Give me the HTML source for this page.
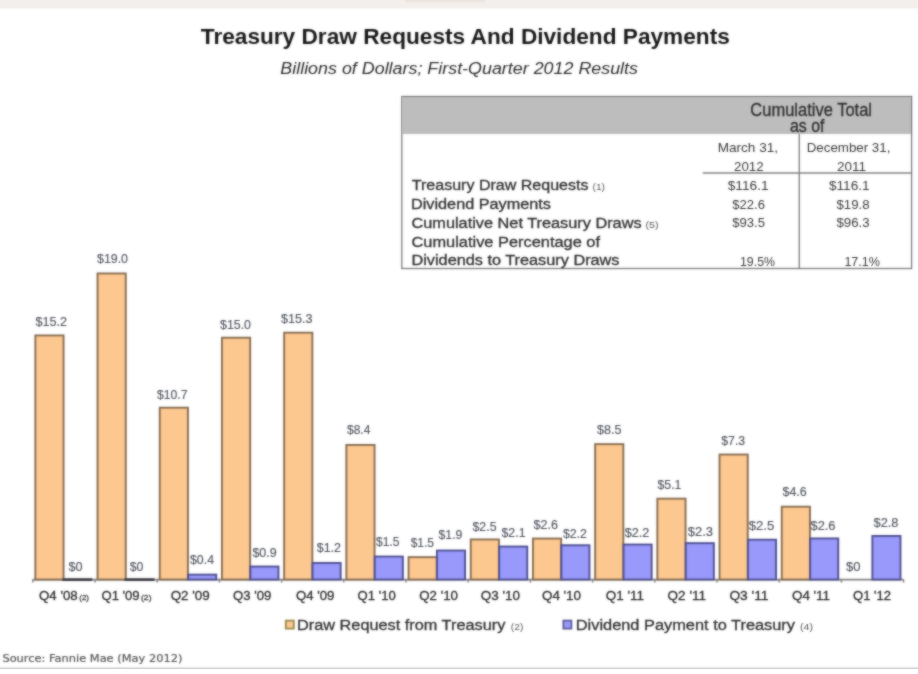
<!DOCTYPE html>
<html lang="en"><head><meta charset="utf-8"><title>Treasury Draw Requests And Dividend Payments</title>
<style>
html,body{margin:0;padding:0;background:#fff;}
body{width:918px;height:674px;overflow:hidden;}
svg{display:block;font-family:"Liberation Sans","DejaVu Sans",sans-serif;}
.t{fill:#2b2b2b}
.dl{fill:#4f545e;font-size:12.7px;stroke:#4f545e;stroke-width:0.15px}
.xl{fill:#2c2c2c;font-size:12.6px;stroke:#2c2c2c;stroke-width:0.3px}
.tb{fill:#2e2e2e;font-size:14.9px;stroke:#2e2e2e;stroke-width:0.3px}
.tn{fill:#3a3a3a;font-size:13px}
</style></head><body>
<svg width="918" height="674" viewBox="0 0 918 674">
<defs><filter id="b" x="0" y="0" width="100%" height="100%" color-interpolation-filters="sRGB"><feGaussianBlur in="SourceGraphic" stdDeviation="0.8" result="bl"/><feComposite in="bl" in2="SourceGraphic" operator="arithmetic" k1="0" k2="0.6" k3="0.4" k4="0"/></filter></defs>
<rect width="918" height="674" fill="#ffffff"/>
<g filter="url(#b)">
<rect x="-2" y="-2" width="922" height="10.6" fill="#f3efec"/>
<rect x="405" y="-2" width="80" height="4" fill="#ece3dc"/>

<text x="200.8" y="43.5" textLength="529.0" lengthAdjust="spacingAndGlyphs" class="t" style="font-weight:bold;font-size:21.4px;fill:#161616">Treasury Draw Requests And Dividend Payments</text>
<text x="280.3" y="74.4" textLength="357.7" lengthAdjust="spacingAndGlyphs" class="t" style="font-style:italic;font-size:15.8px">Billions of Dollars; First-Quarter 2012 Results</text>
<rect x="401.8" y="96.5" width="509.8" height="172" fill="#ffffff" stroke="#7a7a7a" stroke-width="1.3"/>
<rect x="402" y="97" width="509" height="37" fill="#bdbdbd"/>
<line x1="799.3" y1="134" x2="799.3" y2="268.5" stroke="#808080" stroke-width="1.4"/>
<line x1="702.8" y1="173" x2="911.5" y2="173" stroke="#808080" stroke-width="1.3"/>
<text x="750.3" y="116.0" textLength="121.7" lengthAdjust="spacingAndGlyphs" class="tb" style="font-size:17.8px">Cumulative Total</text>
<text x="790.0" y="131.9" textLength="34.5" lengthAdjust="spacingAndGlyphs" class="tb" style="font-size:17.8px">as of</text>
<text x="717.7" y="151.8" textLength="60.3" lengthAdjust="spacingAndGlyphs" class="tn" >March 31,</text>
<text x="734.0" y="170.5" textLength="29.6" lengthAdjust="spacingAndGlyphs" class="tn" >2012</text>
<text x="806.7" y="151.8" textLength="83.7" lengthAdjust="spacingAndGlyphs" class="tn" >December 31,</text>
<text x="837.0" y="170.5" textLength="29.0" lengthAdjust="spacingAndGlyphs" class="tn" >2011</text>
<text x="411.8" y="189.6" textLength="176.7" lengthAdjust="spacingAndGlyphs" class="tb" >Treasury Draw Requests</text>
<text x="592.5" y="190.3" textLength="12.5" lengthAdjust="spacingAndGlyphs" class="tn" style="font-size:9.5px;fill:#555">(1)</text>
<text x="411.0" y="209.0" textLength="140.0" lengthAdjust="spacingAndGlyphs" class="tb" >Dividend Payments</text>
<text x="411.5" y="227.5" textLength="230.1" lengthAdjust="spacingAndGlyphs" class="tb" >Cumulative Net Treasury Draws</text>
<text x="645.5" y="227.5" textLength="13.0" lengthAdjust="spacingAndGlyphs" class="tn" style="font-size:9.5px;fill:#555">(5)</text>
<text x="411.5" y="246.7" textLength="188.5" lengthAdjust="spacingAndGlyphs" class="tb" >Cumulative Percentage of</text>
<text x="411.5" y="265.0" textLength="208.0" lengthAdjust="spacingAndGlyphs" class="tb" >Dividends to Treasury Draws</text>
<text x="727.7" y="190.3" textLength="41.0" lengthAdjust="spacingAndGlyphs" class="tn" >$116.1</text>
<text x="829.0" y="190.3" textLength="40.6" lengthAdjust="spacingAndGlyphs" class="tn" >$116.1</text>
<text x="732.2" y="209.0" textLength="32.8" lengthAdjust="spacingAndGlyphs" class="tn" >$22.6</text>
<text x="836.4" y="209.0" textLength="33.2" lengthAdjust="spacingAndGlyphs" class="tn" >$19.8</text>
<text x="732.2" y="227.4" textLength="32.8" lengthAdjust="spacingAndGlyphs" class="tn" >$93.5</text>
<text x="836.4" y="227.4" textLength="33.2" lengthAdjust="spacingAndGlyphs" class="tn" >$96.3</text>
<text x="740.0" y="266.0" textLength="35.0" lengthAdjust="spacingAndGlyphs" class="tn" >19.5%</text>
<text x="844.4" y="266.0" textLength="35.6" lengthAdjust="spacingAndGlyphs" class="tn" >17.1%</text>
<line x1="32.8" y1="579.6" x2="903.6" y2="579.6" stroke="#808080" stroke-width="1.8"/>
<line x1="32.8" y1="579.6" x2="32.8" y2="582.6" stroke="#808080" stroke-width="1.5"/>
<line x1="95.0" y1="579.6" x2="95.0" y2="582.6" stroke="#808080" stroke-width="1.5"/>
<line x1="157.2" y1="579.6" x2="157.2" y2="582.6" stroke="#808080" stroke-width="1.5"/>
<line x1="219.4" y1="579.6" x2="219.4" y2="582.6" stroke="#808080" stroke-width="1.5"/>
<line x1="281.6" y1="579.6" x2="281.6" y2="582.6" stroke="#808080" stroke-width="1.5"/>
<line x1="343.8" y1="579.6" x2="343.8" y2="582.6" stroke="#808080" stroke-width="1.5"/>
<line x1="406.0" y1="579.6" x2="406.0" y2="582.6" stroke="#808080" stroke-width="1.5"/>
<line x1="468.2" y1="579.6" x2="468.2" y2="582.6" stroke="#808080" stroke-width="1.5"/>
<line x1="530.4" y1="579.6" x2="530.4" y2="582.6" stroke="#808080" stroke-width="1.5"/>
<line x1="592.6" y1="579.6" x2="592.6" y2="582.6" stroke="#808080" stroke-width="1.5"/>
<line x1="654.8" y1="579.6" x2="654.8" y2="582.6" stroke="#808080" stroke-width="1.5"/>
<line x1="717.0" y1="579.6" x2="717.0" y2="582.6" stroke="#808080" stroke-width="1.5"/>
<line x1="779.2" y1="579.6" x2="779.2" y2="582.6" stroke="#808080" stroke-width="1.5"/>
<line x1="841.4" y1="579.6" x2="841.4" y2="582.6" stroke="#808080" stroke-width="1.5"/>
<line x1="903.6" y1="579.6" x2="903.6" y2="582.6" stroke="#808080" stroke-width="1.5"/>
<rect x="35.35" y="335.45" width="28.20" height="244.10" fill="#fdc890" stroke="#866c50" stroke-width="1.9"/>
<path d="M63.70 578.4 V579.6 H92.30" fill="none" stroke="#3c3c44" stroke-width="2.8"/>
<text x="35.5" y="325.5" textLength="31.5" lengthAdjust="spacingAndGlyphs" class="dl" >$15.2</text>
<text x="68.5" y="570.5" textLength="14.1" lengthAdjust="spacingAndGlyphs" class="dl" >$0</text>
<text x="39.0" y="599.7" textLength="38.7" lengthAdjust="spacingAndGlyphs" class="xl" >Q4 '08</text>
<rect x="97.55" y="273.45" width="28.20" height="306.10" fill="#fdc890" stroke="#866c50" stroke-width="1.9"/>
<path d="M125.90 578.4 V579.6 H154.50" fill="none" stroke="#3c3c44" stroke-width="2.8"/>
<text x="97.0" y="263.0" textLength="31.0" lengthAdjust="spacingAndGlyphs" class="dl" >$19.0</text>
<text x="129.8" y="570.5" textLength="13.6" lengthAdjust="spacingAndGlyphs" class="dl" >$0</text>
<text x="101.5" y="599.7" textLength="38.1" lengthAdjust="spacingAndGlyphs" class="xl" >Q1 '09</text>
<rect x="159.75" y="407.70" width="28.20" height="171.85" fill="#fdc890" stroke="#866c50" stroke-width="1.9"/>
<rect x="188.15" y="574.65" width="28.10" height="4.90" fill="#9999fb" stroke="#4e4e92" stroke-width="1.9"/>
<text x="157.0" y="398.8" textLength="30.5" lengthAdjust="spacingAndGlyphs" class="dl" >$10.7</text>
<text x="190.0" y="564.3" textLength="24.0" lengthAdjust="spacingAndGlyphs" class="dl" >$0.4</text>
<text x="170.7" y="599.7" textLength="39.1" lengthAdjust="spacingAndGlyphs" class="xl" >Q2 '09</text>
<rect x="221.95" y="337.70" width="28.20" height="241.85" fill="#fdc890" stroke="#866c50" stroke-width="1.9"/>
<rect x="250.35" y="566.55" width="28.10" height="13.00" fill="#9999fb" stroke="#4e4e92" stroke-width="1.9"/>
<text x="220.0" y="328.8" textLength="31.0" lengthAdjust="spacingAndGlyphs" class="dl" >$15.0</text>
<text x="252.4" y="557.4" textLength="24.3" lengthAdjust="spacingAndGlyphs" class="dl" >$0.9</text>
<text x="233.0" y="599.7" textLength="38.3" lengthAdjust="spacingAndGlyphs" class="xl" >Q3 '09</text>
<rect x="284.15" y="332.70" width="28.20" height="246.85" fill="#fdc890" stroke="#866c50" stroke-width="1.9"/>
<rect x="312.55" y="562.95" width="28.10" height="16.60" fill="#9999fb" stroke="#4e4e92" stroke-width="1.9"/>
<text x="281.0" y="323.0" textLength="31.5" lengthAdjust="spacingAndGlyphs" class="dl" >$15.3</text>
<text x="316.7" y="551.8" textLength="24.3" lengthAdjust="spacingAndGlyphs" class="dl" >$1.2</text>
<text x="296.0" y="599.7" textLength="38.4" lengthAdjust="spacingAndGlyphs" class="xl" >Q4 '09</text>
<rect x="346.35" y="444.95" width="28.20" height="134.60" fill="#fdc890" stroke="#866c50" stroke-width="1.9"/>
<rect x="374.75" y="556.55" width="28.10" height="23.00" fill="#9999fb" stroke="#4e4e92" stroke-width="1.9"/>
<text x="347.0" y="433.9" textLength="23.4" lengthAdjust="spacingAndGlyphs" class="dl" >$8.4</text>
<text x="376.0" y="545.6" textLength="23.4" lengthAdjust="spacingAndGlyphs" class="dl" >$1.5</text>
<text x="357.6" y="599.7" textLength="38.2" lengthAdjust="spacingAndGlyphs" class="xl" >Q1 '10</text>
<rect x="408.55" y="557.15" width="28.20" height="22.40" fill="#fdc890" stroke="#866c50" stroke-width="1.9"/>
<rect x="436.95" y="550.55" width="28.10" height="29.00" fill="#9999fb" stroke="#4e4e92" stroke-width="1.9"/>
<text x="410.7" y="547.4" textLength="23.3" lengthAdjust="spacingAndGlyphs" class="dl" >$1.5</text>
<text x="438.5" y="539.3" textLength="23.9" lengthAdjust="spacingAndGlyphs" class="dl" >$1.9</text>
<text x="419.3" y="599.7" textLength="38.7" lengthAdjust="spacingAndGlyphs" class="xl" >Q2 '10</text>
<rect x="470.75" y="539.45" width="28.20" height="40.10" fill="#fdc890" stroke="#866c50" stroke-width="1.9"/>
<rect x="499.15" y="546.55" width="28.10" height="33.00" fill="#9999fb" stroke="#4e4e92" stroke-width="1.9"/>
<text x="472.5" y="530.5" textLength="24.0" lengthAdjust="spacingAndGlyphs" class="dl" >$2.5</text>
<text x="501.5" y="536.5" textLength="24.0" lengthAdjust="spacingAndGlyphs" class="dl" >$2.1</text>
<text x="480.8" y="599.7" textLength="39.2" lengthAdjust="spacingAndGlyphs" class="xl" >Q3 '10</text>
<rect x="532.95" y="538.55" width="28.20" height="41.00" fill="#fdc890" stroke="#866c50" stroke-width="1.9"/>
<rect x="561.35" y="545.25" width="28.10" height="34.30" fill="#9999fb" stroke="#4e4e92" stroke-width="1.9"/>
<text x="533.4" y="528.7" textLength="24.5" lengthAdjust="spacingAndGlyphs" class="dl" >$2.6</text>
<text x="562.9" y="538.0" textLength="23.9" lengthAdjust="spacingAndGlyphs" class="dl" >$2.2</text>
<text x="542.0" y="599.7" textLength="39.0" lengthAdjust="spacingAndGlyphs" class="xl" >Q4 '10</text>
<rect x="595.15" y="444.15" width="28.20" height="135.40" fill="#fdc890" stroke="#866c50" stroke-width="1.9"/>
<rect x="623.55" y="544.55" width="28.10" height="35.00" fill="#9999fb" stroke="#4e4e92" stroke-width="1.9"/>
<text x="597.0" y="433.9" textLength="24.4" lengthAdjust="spacingAndGlyphs" class="dl" >$8.5</text>
<text x="624.7" y="537.3" textLength="24.7" lengthAdjust="spacingAndGlyphs" class="dl" >$2.2</text>
<text x="605.8" y="599.7" textLength="38.2" lengthAdjust="spacingAndGlyphs" class="xl" >Q1 '11</text>
<rect x="657.35" y="498.65" width="28.20" height="80.90" fill="#fdc890" stroke="#866c50" stroke-width="1.9"/>
<rect x="685.75" y="543.15" width="28.10" height="36.40" fill="#9999fb" stroke="#4e4e92" stroke-width="1.9"/>
<text x="657.5" y="488.9" textLength="23.9" lengthAdjust="spacingAndGlyphs" class="dl" >$5.1</text>
<text x="687.7" y="535.5" textLength="25.3" lengthAdjust="spacingAndGlyphs" class="dl" >$2.3</text>
<text x="667.6" y="599.7" textLength="38.4" lengthAdjust="spacingAndGlyphs" class="xl" >Q2 '11</text>
<rect x="719.55" y="454.55" width="28.20" height="125.00" fill="#fdc890" stroke="#866c50" stroke-width="1.9"/>
<rect x="747.95" y="539.70" width="28.10" height="39.85" fill="#9999fb" stroke="#4e4e92" stroke-width="1.9"/>
<text x="721.3" y="444.7" textLength="23.9" lengthAdjust="spacingAndGlyphs" class="dl" >$7.3</text>
<text x="748.8" y="530.0" textLength="25.5" lengthAdjust="spacingAndGlyphs" class="dl" >$2.5</text>
<text x="729.4" y="599.7" textLength="39.1" lengthAdjust="spacingAndGlyphs" class="xl" >Q3 '11</text>
<rect x="781.75" y="506.70" width="28.20" height="72.85" fill="#fdc890" stroke="#866c50" stroke-width="1.9"/>
<rect x="810.15" y="538.45" width="28.10" height="41.10" fill="#9999fb" stroke="#4e4e92" stroke-width="1.9"/>
<text x="782.5" y="496.2" textLength="24.2" lengthAdjust="spacingAndGlyphs" class="dl" >$4.6</text>
<text x="810.5" y="529.5" textLength="25.0" lengthAdjust="spacingAndGlyphs" class="dl" >$2.6</text>
<text x="792.0" y="599.7" textLength="38.0" lengthAdjust="spacingAndGlyphs" class="xl" >Q4 '11</text>
<rect x="872.35" y="535.95" width="28.10" height="43.60" fill="#9999fb" stroke="#4e4e92" stroke-width="1.9"/>
<text x="846.0" y="570.5" textLength="14.5" lengthAdjust="spacingAndGlyphs" class="dl" >$0</text>
<text x="873.5" y="527.0" textLength="25.0" lengthAdjust="spacingAndGlyphs" class="dl" >$2.8</text>
<text x="853.0" y="599.7" textLength="38.0" lengthAdjust="spacingAndGlyphs" class="xl" >Q1 '12</text>
<text x="79.3" y="599.8" textLength="9.7" lengthAdjust="spacingAndGlyphs" class="xl" style="font-size:7.5px;fill:#666">(2)</text>
<text x="141.0" y="599.8" textLength="10.5" lengthAdjust="spacingAndGlyphs" class="xl" style="font-size:7.5px;fill:#666">(2)</text>
<rect x="285.8" y="620.6" width="8" height="8" fill="#fdc890" stroke="#9a8a4a" stroke-width="1.8"/>
<text x="297.0" y="629.7" textLength="208.3" lengthAdjust="spacingAndGlyphs" class="tb" style="font-size:15.5px">Draw Request from Treasury</text>
<text x="510.8" y="629.7" textLength="12.5" lengthAdjust="spacingAndGlyphs" class="tn" style="font-size:9.5px;fill:#555">(2)</text>
<rect x="563.4" y="620.6" width="8" height="8" fill="#9999fb" stroke="#5a5a9a" stroke-width="1.8"/>
<text x="575.8" y="629.7" textLength="219.2" lengthAdjust="spacingAndGlyphs" class="tb" style="font-size:15.5px">Dividend Payment to Treasury</text>
<text x="800.0" y="629.7" textLength="13.0" lengthAdjust="spacingAndGlyphs" class="tn" style="font-size:9.5px;fill:#555">(4)</text>
<text x="2.4" y="662.3" textLength="180.0" lengthAdjust="spacingAndGlyphs" class="tn" style="font-size:11.3px;fill:#555;stroke:#555;stroke-width:0.2px;font-family:DejaVu Sans, Liberation Sans, sans-serif">Source: Fannie Mae (May 2012)</text>
<line x1="-2" y1="668.4" x2="920" y2="668.4" stroke="#b9b9b9" stroke-width="1.4"/>
</g></svg></body></html>
